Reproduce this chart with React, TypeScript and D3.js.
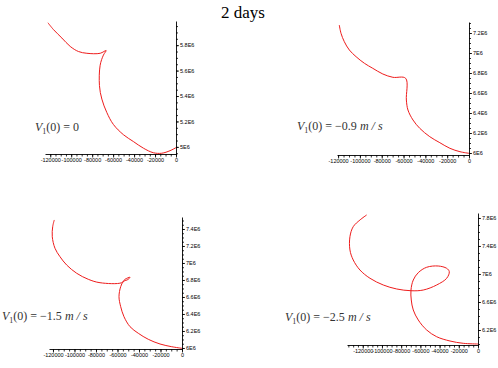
import React, {useEffect, useRef} from 'react';
import {scaleLinear, line, axisBottom, axisRight, select, range, curveCatmullRom} from 'd3';

// trajectories, [x (m), y (m)]
const traj0: [number, number][] = [
	[-122190, 5.976e6], [-116860, 5.922e6], [-108860, 5.856e6], [-100950, 5.790e6],
	[-93050, 5.750e6], [-85050, 5.736e6], [-72380, 5.736e6], [-66670, 5.758e6],
	[-69240, 5.722e6], [-72380, 5.642e6], [-73050, 5.482e6], [-70760, 5.376e6],
	[-66000, 5.270e6], [-59710, 5.176e6], [-50190, 5.096e6], [-40670, 5.042e6],
	[-31140, 4.990e6], [-21620, 4.954e6], [-13620, 4.950e6], [-5710, 4.970e6], [0, 4.994e6]
];
const traj09: [number, number][] = [
	[-118900, 7.28e6], [-117330, 7.197e6], [-114290, 7.113e6], [-109680, 7.03e6],
	[-103510, 6.963e6], [-95860, 6.897e6], [-88210, 6.847e6], [-78990, 6.79e6],
	[-69770, 6.757e6], [-58070, 6.747e6], [-57420, 6.53e6], [-55950, 6.43e6],
	[-51340, 6.33e6], [-45160, 6.247e6], [-35950, 6.163e6], [-26730, 6.103e6],
	[-17510, 6.047e6], [-8300, 6.013e6], [0, 5.997e6]
];
const traj15: [number, number][] = [
	[-118790, 7.506e6], [-120270, 7.427e6], [-120650, 7.309e6], [-118140, 7.173e6],
	[-113480, 7.074e6], [-107250, 6.976e6], [-97950, 6.879e6], [-87160, 6.808e6],
	[-76280, 6.768e6], [-56090, 6.768e6], [-53020, 6.808e6], [-48370, 6.832e6],
	[-49950, 6.808e6], [-54600, 6.78e6], [-57020, 6.721e6], [-58600, 6.604e6],
	[-57020, 6.486e6], [-53950, 6.368e6], [-48370, 6.251e6], [-40650, 6.173e6],
	[-31350, 6.102e6], [-20460, 6.047e6], [-9580, 6.015e6], [0, 5.996e6]
];
const traj25: [number, number][] = [
	[-115940, 7.843e6], [-122920, 7.771e6], [-129900, 7.676e6], [-133340, 7.533e6],
	[-133340, 7.343e6], [-129900, 7.2e6], [-122920, 7.057e6], [-112500, 6.939e6],
	[-98650, 6.843e6], [-84690, 6.786e6], [-69790, 6.761e6], [-56980, 6.771e6],
	[-43020, 6.843e6], [-32600, 6.939e6], [-29900, 7.033e6], [-32600, 7.081e6],
	[-41350, 7.114e6], [-53440, 7.096e6], [-62190, 7.019e6], [-67400, 6.914e6],
	[-69790, 6.771e6], [-69480, 6.629e6], [-67400, 6.486e6], [-62190, 6.343e6],
	[-53440, 6.2e6], [-43020, 6.104e6], [-29170, 6.043e6], [-15310, 6.01e6], [0, 6.0e6]
];

const xTicks = [-120000, -100000, -80000, -60000, -40000, -20000, 0];
const yTicks0 = [5e6, 5.2e6, 5.4e6, 5.6e6, 5.8e6];
const yTicks09 = [6e6, 6.2e6, 6.4e6, 6.6e6, 6.8e6, 7e6, 7.2e6];
const yTicks15 = [6e6, 6.2e6, 6.4e6, 6.6e6, 6.8e6, 7e6, 7.2e6, 7.4e6];
const yTicks25 = [6.2e6, 6.6e6, 7e6, 7.4e6, 7.8e6];
const speeds = ['0', '\u22120.9', '\u22121.5', '\u22122.5'];

const fmtY = (d: number) => `${+(d / 1e6).toFixed(1)}E6`;

// page layout of each panel: left end of x axis, y axis position, top of y axis, x axis position
const panels = [
	{data: traj0, yTicks: yTicks0, xMin: -125000, yDom: [4.944e6, 5.99e6], yMinor: 0.05e6,
		left: 45, right: 176, top: 21, bottom: 154, label: {x: 35, y: 131}, units: false},
	{data: traj09, yTicks: yTicks09, xMin: -121000, yDom: [5.98e6, 7.31e6], yMinor: 0.05e6,
		left: 337, right: 469, top: 22, bottom: 155, label: {x: 297, y: 130}, units: true},
	{data: traj15, yTicks: yTicks15, xMin: -123700, yDom: [5.988e6, 7.541e6], yMinor: 0.05e6,
		left: 49, right: 182, top: 217, bottom: 349, label: {x: 2, y: 320}, units: true},
	{data: traj25, yTicks: yTicks25, xMin: -136400, yDom: [5.986e6, 7.871e6], yMinor: 0.1e6,
		left: 347, right: 478, top: 213, bottom: 345, label: {x: 285, y: 321}, units: true},
];

const tickFont = 'Arial, "Liberation Sans", sans-serif';
const mathFont = '"Liberation Serif", "Times New Roman", serif';

function Panel({p, speed}: {p: typeof panels[number], speed: string}){
	const xRef = useRef<SVGGElement>(null);
	const yRef = useRef<SVGGElement>(null);
	const xMinorRef = useRef<SVGGElement>(null);
	const yMinorRef = useRef<SVGGElement>(null);

	const sx = scaleLinear().domain([p.xMin, 0]).range([p.left, p.right]);
	const sy = scaleLinear().domain(p.yDom).range([p.bottom, p.top]);

	const path = line<[number, number]>()
		.x(d => sx(d[0]))
		.y(d => sy(d[1]))
		.curve(curveCatmullRom.alpha(0.5));

	useEffect(() => {
		const xMinor = range(0, p.xMin, -5000);
		const yMinor = range(Math.ceil(p.yDom[0] / p.yMinor) * p.yMinor, p.yDom[1], p.yMinor);

		select(xMinorRef.current!).call(
			axisBottom(sx).tickValues(xMinor).tickSize(2.5).tickFormat(() => '')
		).select('.domain').remove();
		select(yMinorRef.current!).call(
			axisRight(sy).tickValues(yMinor).tickSize(2).tickFormat(() => '')
		).select('.domain').remove();

		select(xRef.current!).call(
			axisBottom(sx).tickValues(xTicks).tickSize(3.5).tickPadding(1).tickSizeOuter(0)
				.tickFormat(d => `${d}`)
		);
		select(yRef.current!).call(
			axisRight(sy).tickValues(p.yTicks).tickSize(3).tickPadding(1).tickSizeOuter(0)
				.tickFormat(d => fmtY(+d))
		);

		[xRef, yRef, xMinorRef, yMinorRef].forEach(r => {
			const g = select(r.current!);
			g.attr('font-family', tickFont).attr('font-size', 5.5);
			g.selectAll('line').attr('stroke', '#000').attr('stroke-width', 0.8);
			g.select('.domain').attr('stroke', '#000').attr('stroke-width', 0.9);
			g.selectAll('text').attr('fill', '#000');
		});
	}, []);

	return (
		<g>
			<g ref={xMinorRef} transform={`translate(0,${p.bottom})`}/>
			<g ref={yMinorRef} transform={`translate(${p.right},0)`}/>
			<g ref={xRef} transform={`translate(0,${p.bottom})`}/>
			<g ref={yRef} transform={`translate(${p.right},0)`}/>
			<path d={path(p.data) || ''} fill='none' stroke='#ee1c1c' strokeWidth={1}/>
			<text x={p.label.x} y={p.label.y} fontFamily={mathFont} fontSize={12} fill='#333'>
				<tspan fontStyle='italic'>V</tspan>
				<tspan fontSize={8} dy={3}>1</tspan>
				<tspan dy={-3}>{`(0) = ${speed}`}</tspan>
				{p.units && <tspan fontStyle='italic'>{' m / s'}</tspan>}
			</text>
		</g>
	);
}

export default function App(){
	return (
		<svg width={498} height={368} style={{position: 'absolute', left: 0, top: 0, background: '#fff'}}>
			<text x={243} y={18} textAnchor='middle' fontFamily={mathFont} fontSize={17} fill='#000'>
				2 days
			</text>
			{panels.map((p, i) => <Panel key={i} p={p} speed={speeds[i]}/>)}
		</svg>
	);
}
